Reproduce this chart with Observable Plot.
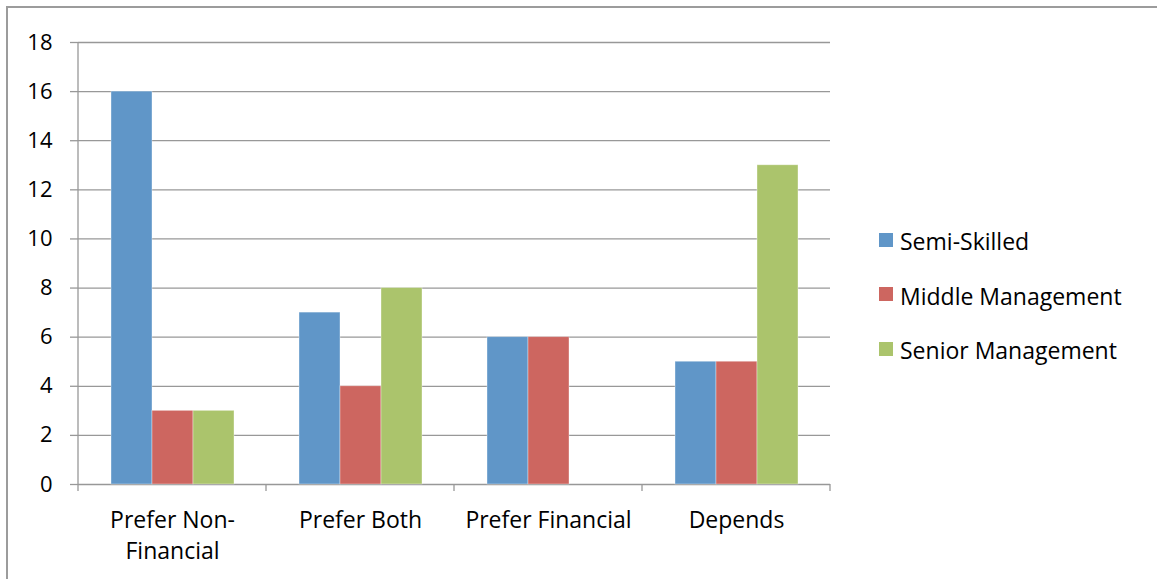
<!DOCTYPE html>
<html>
<head>
<meta charset="utf-8">
<script src="https://cdn.jsdelivr.net/npm/d3@7"></script>
<script src="https://cdn.jsdelivr.net/npm/@observablehq/plot@0.6"></script>
<style>
  html, body { margin: 0; padding: 0; background: #fff; overflow: hidden; }
  body { width: 1157px; height: 579px; position: relative; font-family: "Open Sans", sans-serif; }
  #frame {
    position: absolute; left: 6px; top: 6px; width: 1300px; height: 700px;
    border: 2px solid #9c9c9c; box-sizing: border-box;
  }
  #chart { position: absolute; left: 0; top: 0; }
  #legend { position: absolute; left: 879px; top: 214px; }
  .item { display: flex; align-items: center; height: 54.5px; font-size: 23px; color: #000; }
  .swatch { width: 14px; height: 14px; margin-right: 7px; margin-top: -3px; }
</style>
</head>
<body>
<div id="frame"></div>
<div id="chart"></div>
<div id="legend"></div>
<script>
// Survey answers: preference for financial vs non-financial rewards, by staff level
const categories = ["Prefer Non-Financial", "Prefer Both", "Prefer Financial", "Depends"];
const series = ["Semi-Skilled", "Middle Management", "Senior Management"];
const semiSkilled = [16, 7, 6, 5];
const middleManagement = [3, 4, 6, 5];
const seniorManagement = [3, 8, 0, 13];
const yTicks = [0, 2, 4, 6, 8, 10, 12, 14, 16, 18];
const colors = ["#6096C8", "#CD6660", "#ABC46C"];

const valuesBySeries = [semiSkilled, middleManagement, seniorManagement];
const rows = [];
categories.forEach((c, i) => {
  series.forEach((s, j) => rows.push({category: c, series: s, value: valuesBySeries[j][i]}));
});

const font = "Open Sans, sans-serif";
const gridColor = "#989898";

const chart = Plot.plot({
  width: 1157,
  height: 579,
  marginLeft: 78,
  marginRight: 327,
  marginTop: 42,
  marginBottom: 95,
  style: {fontFamily: font, fontSize: "22px", color: "#000", background: "transparent"},
  fx: {domain: categories, padding: 0, label: null, axis: null},
  x: {domain: series, paddingInner: 0, paddingOuter: 0.75, axis: null},
  y: {domain: [0, 18], label: null},
  color: {domain: series, range: colors},
  marks: [
    Plot.gridY(yTicks, {stroke: gridColor, strokeOpacity: 1, strokeWidth: 1.3}),
    Plot.barY(rows, {
      fx: "category", x: "series", y: "value", fill: "series",
      stroke: "#fff", strokeOpacity: 0.45, strokeWidth: 0.8
    }),
    Plot.axisY(yTicks, {
      tickSize: 8, tickPadding: 18, stroke: gridColor, strokeWidth: 1.3,
      label: null, fill: "#000", fontSize: 22
    }),
    Plot.axisFx({
      anchor: "bottom",
      tickSize: 0, tickPadding: 21, label: null, fill: "#000", fontSize: 23,
      lineHeight: 1.35,
      tickFormat: d => d === "Prefer Non-Financial" ? "Prefer Non-\nFinancial" : d
    })
  ]
});

document.getElementById("chart").appendChild(chart);

// Value axis line and category boundary ticks, placed with the chart's own scales
const fx = chart.scale("fx");
const y = chart.scale("y");
const svg = d3.select(chart);
const edges = categories.map(c => fx.apply(c));
edges.push(fx.apply(categories[categories.length - 1]) + fx.bandwidth);
const y0 = y.apply(0);
const yTop = y.apply(18);
const g = svg.append("g").attr("stroke", gridColor).attr("stroke-width", 1.3);
g.append("line").attr("x1", edges[0]).attr("x2", edges[0]).attr("y1", yTop).attr("y2", y0);
g.selectAll("line.tick").data(edges).join("line").attr("class", "tick")
  .attr("x1", d => d).attr("x2", d => d).attr("y1", y0).attr("y2", y0 + 7);

// Legend
const legend = d3.select("#legend");
series.forEach((s, j) => {
  const item = legend.append("div").attr("class", "item");
  item.append("div").attr("class", "swatch").style("background", colors[j]);
  item.append("span").text(s);
});
</script>
</body>
</html>
